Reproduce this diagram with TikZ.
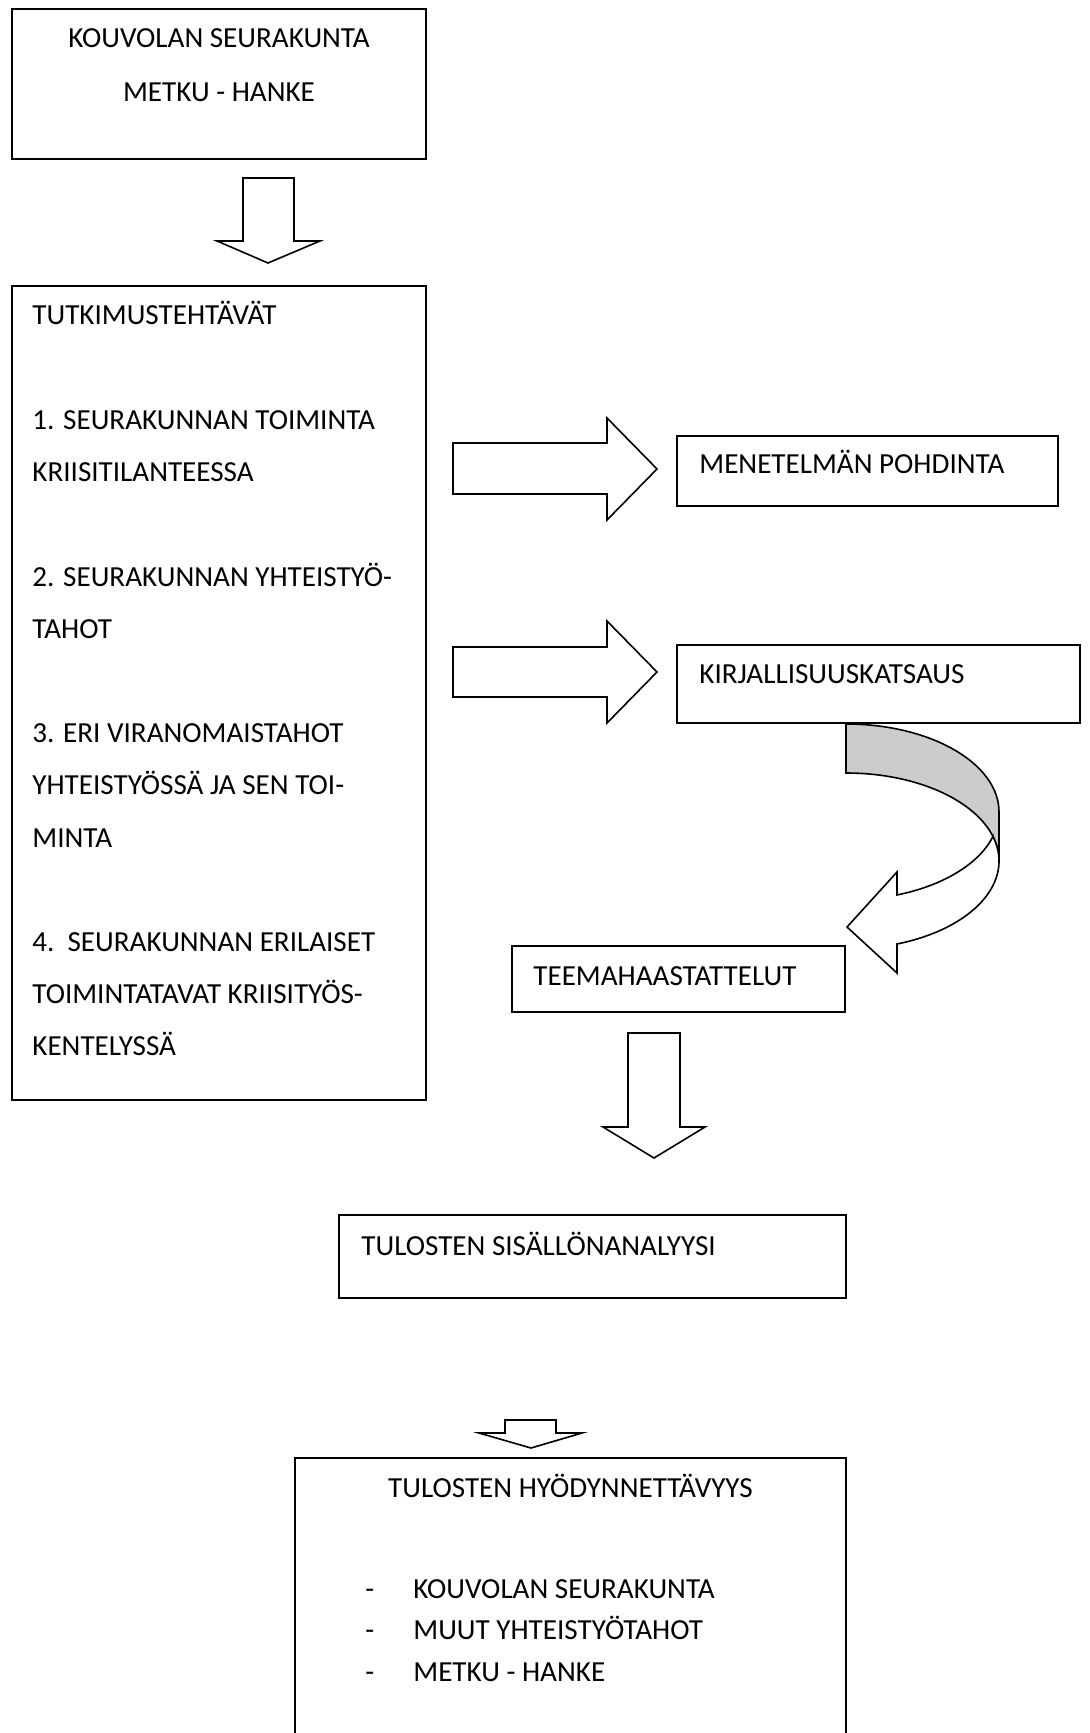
\documentclass[tikz,border=0pt]{standalone}
\usepackage{fontspec}
\setmainfont{Carlito}
\usetikzlibrary{fit}

\tikzset{
  box/.style={draw, line width=0.8pt, inner sep=0pt},
  lbl/.style={inner sep=0pt, anchor=base west, font=\fontsize{14.55}{17}\selectfont},
  blk/.style={draw, line width=0.8pt, fill=white, line join=miter},
}

\begin{document}
\begin{tikzpicture}[x=0.5pt, y=-0.5pt]

% canvas in pixels of the scanned chart, y grows downwards
\useasboundingbox (0,0) rectangle (1089,1733);
\clip (0,0) rectangle (1089,1733);

% boxes
\node[box, fit={(12,9) (426,159)}] (kouvola) {};
\node[box, fit={(12,286) (426,1100)}] (tehtavat) {};
\node[box, fit={(677,436) (1058,506)}] (menetelma) {};
\node[box, fit={(677,645) (1080,723)}] (kirjallisuus) {};
\node[box, fit={(512,946) (845,1012)}] (teema) {};
\node[box, fit={(339,1215) (846,1298)}] (analyysi) {};
\node[box, fit={(295,1458) (846,1790)}] (hyoty) {};   % bottom edge falls off the page

% texts
\node[lbl, anchor=base] (kouvola1) at (219,48) {KOUVOLAN SEURAKUNTA};
\node[lbl, anchor=base] (kouvola2) at (219,102) {METKU - HANKE};

\foreach \k/\txt in {0/TUTKIMUSTEHTÄVÄT, 2/1. SEURAKUNNAN TOIMINTA, 3/KRIISITILANTEESSA,
    5/2. SEURAKUNNAN YHTEISTYÖ-, 6/TAHOT, 8/3. ERI VIRANOMAISTAHOT,
    9/YHTEISTYÖSSÄ JA SEN TOI-, 10/MINTA, 12/4.\ \ SEURAKUNNAN ERILAISET,
    13/TOIMINTATAVAT KRIISITYÖS-, 14/KENTELYSSÄ} {
    \node[lbl] (tl\k) at (32, 325+52.2*\k) {\txt};
}

\node[lbl] (menetelmaT) at (699,473) {MENETELMÄN POHDINTA};
\node[lbl] (kirjallisuusT) at (699,683) {KIRJALLISUUSKATSAUS};
\node[lbl] (teemaT) at (533,985) {TEEMAHAASTATTELUT};
\node[lbl] (analyysiT) at (361,1255) {TULOSTEN SISÄLLÖNANALYYSI};
\node[lbl, anchor=base] (hyotyT) at (570.5,1497) {TULOSTEN HYÖDYNNETTÄVYYS};

\foreach \k/\txt in {0/KOUVOLAN SEURAKUNTA, 1/MUUT YHTEISTYÖTAHOT, 2/METKU - HANKE} {
    \node[lbl] (dash\k) at (365, 1598+41.5*\k) {-};
    \node[lbl] (item\k) at (413, 1598+41.5*\k) {\txt};
}

% block arrows
\draw[blk] (243,178) -- (294,178) -- (294,241) -- (320,241) -- (268,263)
    -- (217,241) -- (243,241) -- cycle;

\foreach \ya/\yb/\ha/\hb/\ty in {443/494/418/520/469, 647/697/621/723/672}
    \draw[blk] (453,\ya) -- (607,\ya) -- (607,\ha) -- (657,\ty) -- (607,\hb)
        -- (607,\yb) -- (453,\yb) -- cycle;

\draw[blk] (628,1033) -- (680,1033) -- (680,1127) -- (705,1127) -- (654,1158)
    -- (603,1127) -- (628,1127) -- cycle;

\draw[blk] (505,1420) -- (556,1420) -- (556,1433) -- (582,1433) -- (531,1448)
    -- (479,1433) -- (505,1433) -- cycle;

% curved arrow, back side (grey) then front side with the head
\draw[blk, fill=black!20] (846,724) arc[start angle=-90, end angle=0, x radius=153, y radius=88]
    -- (999,861) arc[start angle=0, end angle=-90, x radius=153, y radius=88] -- cycle;
\draw[blk] (992.95,836.5) arc[start angle=16.16, end angle=70.53, x radius=153, y radius=88]
    -- (897,872) -- (847,927) -- (897,973) -- (897,944)
    arc[start angle=70.53, end angle=-16.16, x radius=153, y radius=88] -- cycle;

\end{tikzpicture}
\end{document}
